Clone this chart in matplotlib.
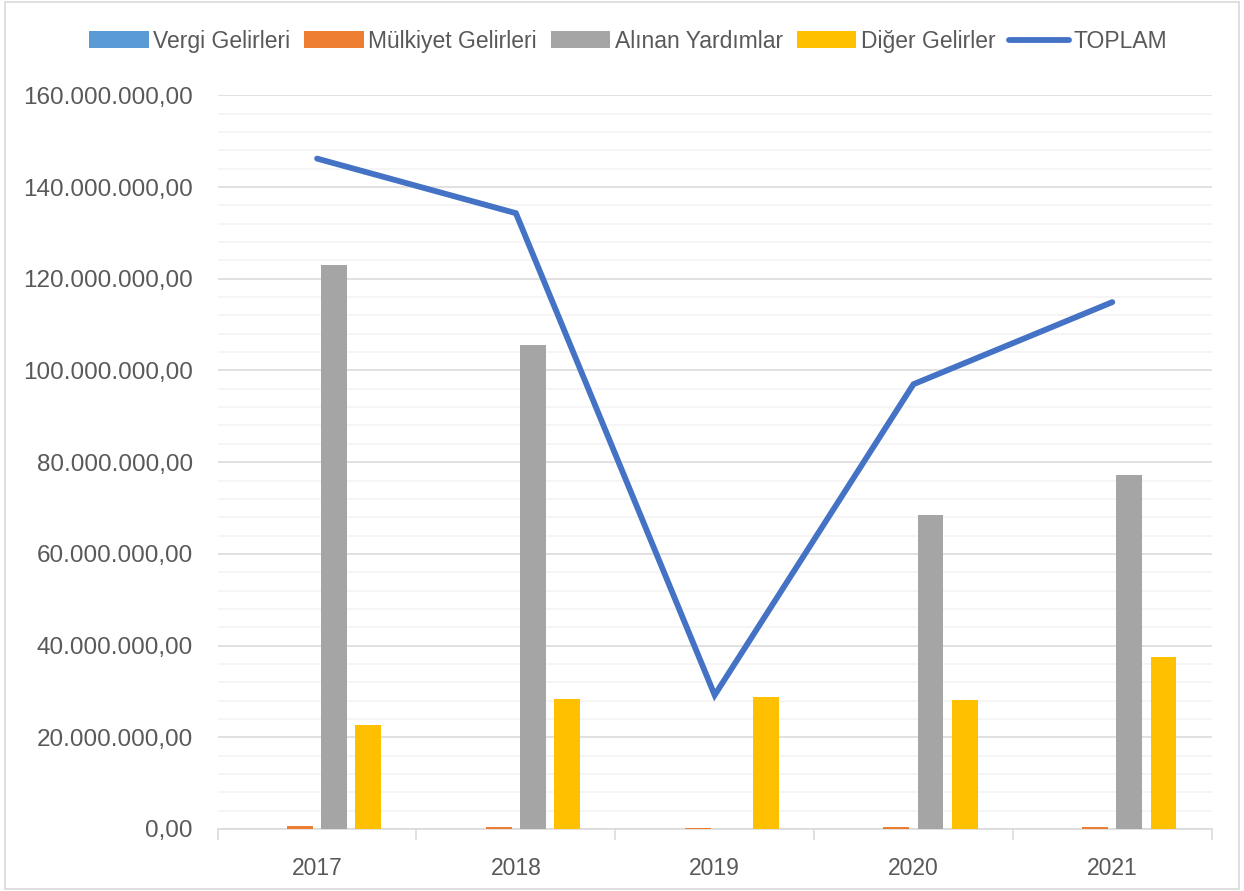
import matplotlib.pyplot as plt
import matplotlib.ticker as mticker
from matplotlib.patches import Rectangle
import numpy as np

years = ['2017', '2018', '2019', '2020', '2021']
vergi = [0.05e6, 0.03e6, 0.02e6, 0.03e6, 0.03e6]
mulkiyet = [0.6e6, 0.4e6, 0.2e6, 0.35e6, 0.4e6]
yardim = [122.9e6, 105.5e6, 0.1e6, 68.4e6, 77.1e6]
diger = [22.7e6, 28.3e6, 28.8e6, 28.1e6, 37.5e6]
toplam = [146.2e6, 134.3e6, 29.2e6, 97.0e6, 114.9e6]

plt.rcParams['font.family'] = ['Liberation Sans', 'DejaVu Sans']

fig = plt.figure(figsize=(12.44, 8.91), dpi=100)
ax = fig.add_axes([0.175, 0.0696, 0.799, 0.8234])
fig.patches.append(Rectangle((0.004, 0.002), 0.992, 0.996, transform=fig.transFigure,
                             fill=False, edgecolor='#d9d9d9', lw=1.2))

x = np.arange(len(years))
w = 0.13
step = 0.172
series = [(vergi, '#5b9bd5', 'Vergi Gelirleri'),
          (mulkiyet, '#ed7d31', 'Mülkiyet Gelirleri'),
          (yardim, '#a5a5a5', 'Alınan Yardımlar'),
          (diger, '#ffc000', 'Diğer Gelirler')]
for i, (vals, col, lab) in enumerate(series):
    ax.bar(x + (i - 1.5) * step, vals, w, color=col, label=lab, zorder=3)
ax.plot(x, toplam, color='#4472c4', lw=4.2, label='TOPLAM', zorder=4,
        solid_capstyle='round', solid_joinstyle='miter')

ax.set_xlim(-0.5, 4.5)
ax.set_ylim(0, 160e6)
ax.yaxis.set_major_locator(mticker.MultipleLocator(20e6))
ax.yaxis.set_minor_locator(mticker.MultipleLocator(4e6))
ax.yaxis.set_major_formatter(mticker.FuncFormatter(
    lambda v, p: '{:,.2f}'.format(v).replace(',', 'X').replace('.', ',').replace('X', '.')))
ax.grid(axis='y', which='major', color='#d9d9d9', lw=1.1, zorder=0)
ax.grid(axis='y', which='minor', color='#f2f2f2', lw=1.1, zorder=0)
ax.set_axisbelow(True)

ax.set_xticks(x)
ax.set_xticklabels(years)
ax.set_xticks(np.arange(-0.5, 5, 1), minor=True)
ax.tick_params(axis='x', which='major', length=0, pad=20, labelsize=16.5, labelcolor='#595959')
ax.tick_params(axis='x', which='minor', length=8, color='#d9d9d9', width=1.1)
ax.tick_params(axis='y', which='both', length=0, pad=18, labelsize=17.5, labelcolor='#595959')

for s in ['top', 'right', 'left']:
    ax.spines[s].set_visible(False)
ax.spines['bottom'].set_color('#d9d9d9')
ax.spines['bottom'].set_linewidth(1.1)

handles, labels = ax.get_legend_handles_labels()
order = [1, 2, 3, 4, 0]
leg = fig.legend([handles[i] for i in order], [labels[i] for i in order],
                 loc='upper center', bbox_to_anchor=(0.505, 0.99), ncol=5, frameon=False,
                 fontsize=16.5, handlelength=2.6, handleheight=0.7, handletextpad=0.2,
                 columnspacing=0.6)
for t in leg.get_texts():
    t.set_color('#595959')

fig.savefig('out.png', dpi=100)
